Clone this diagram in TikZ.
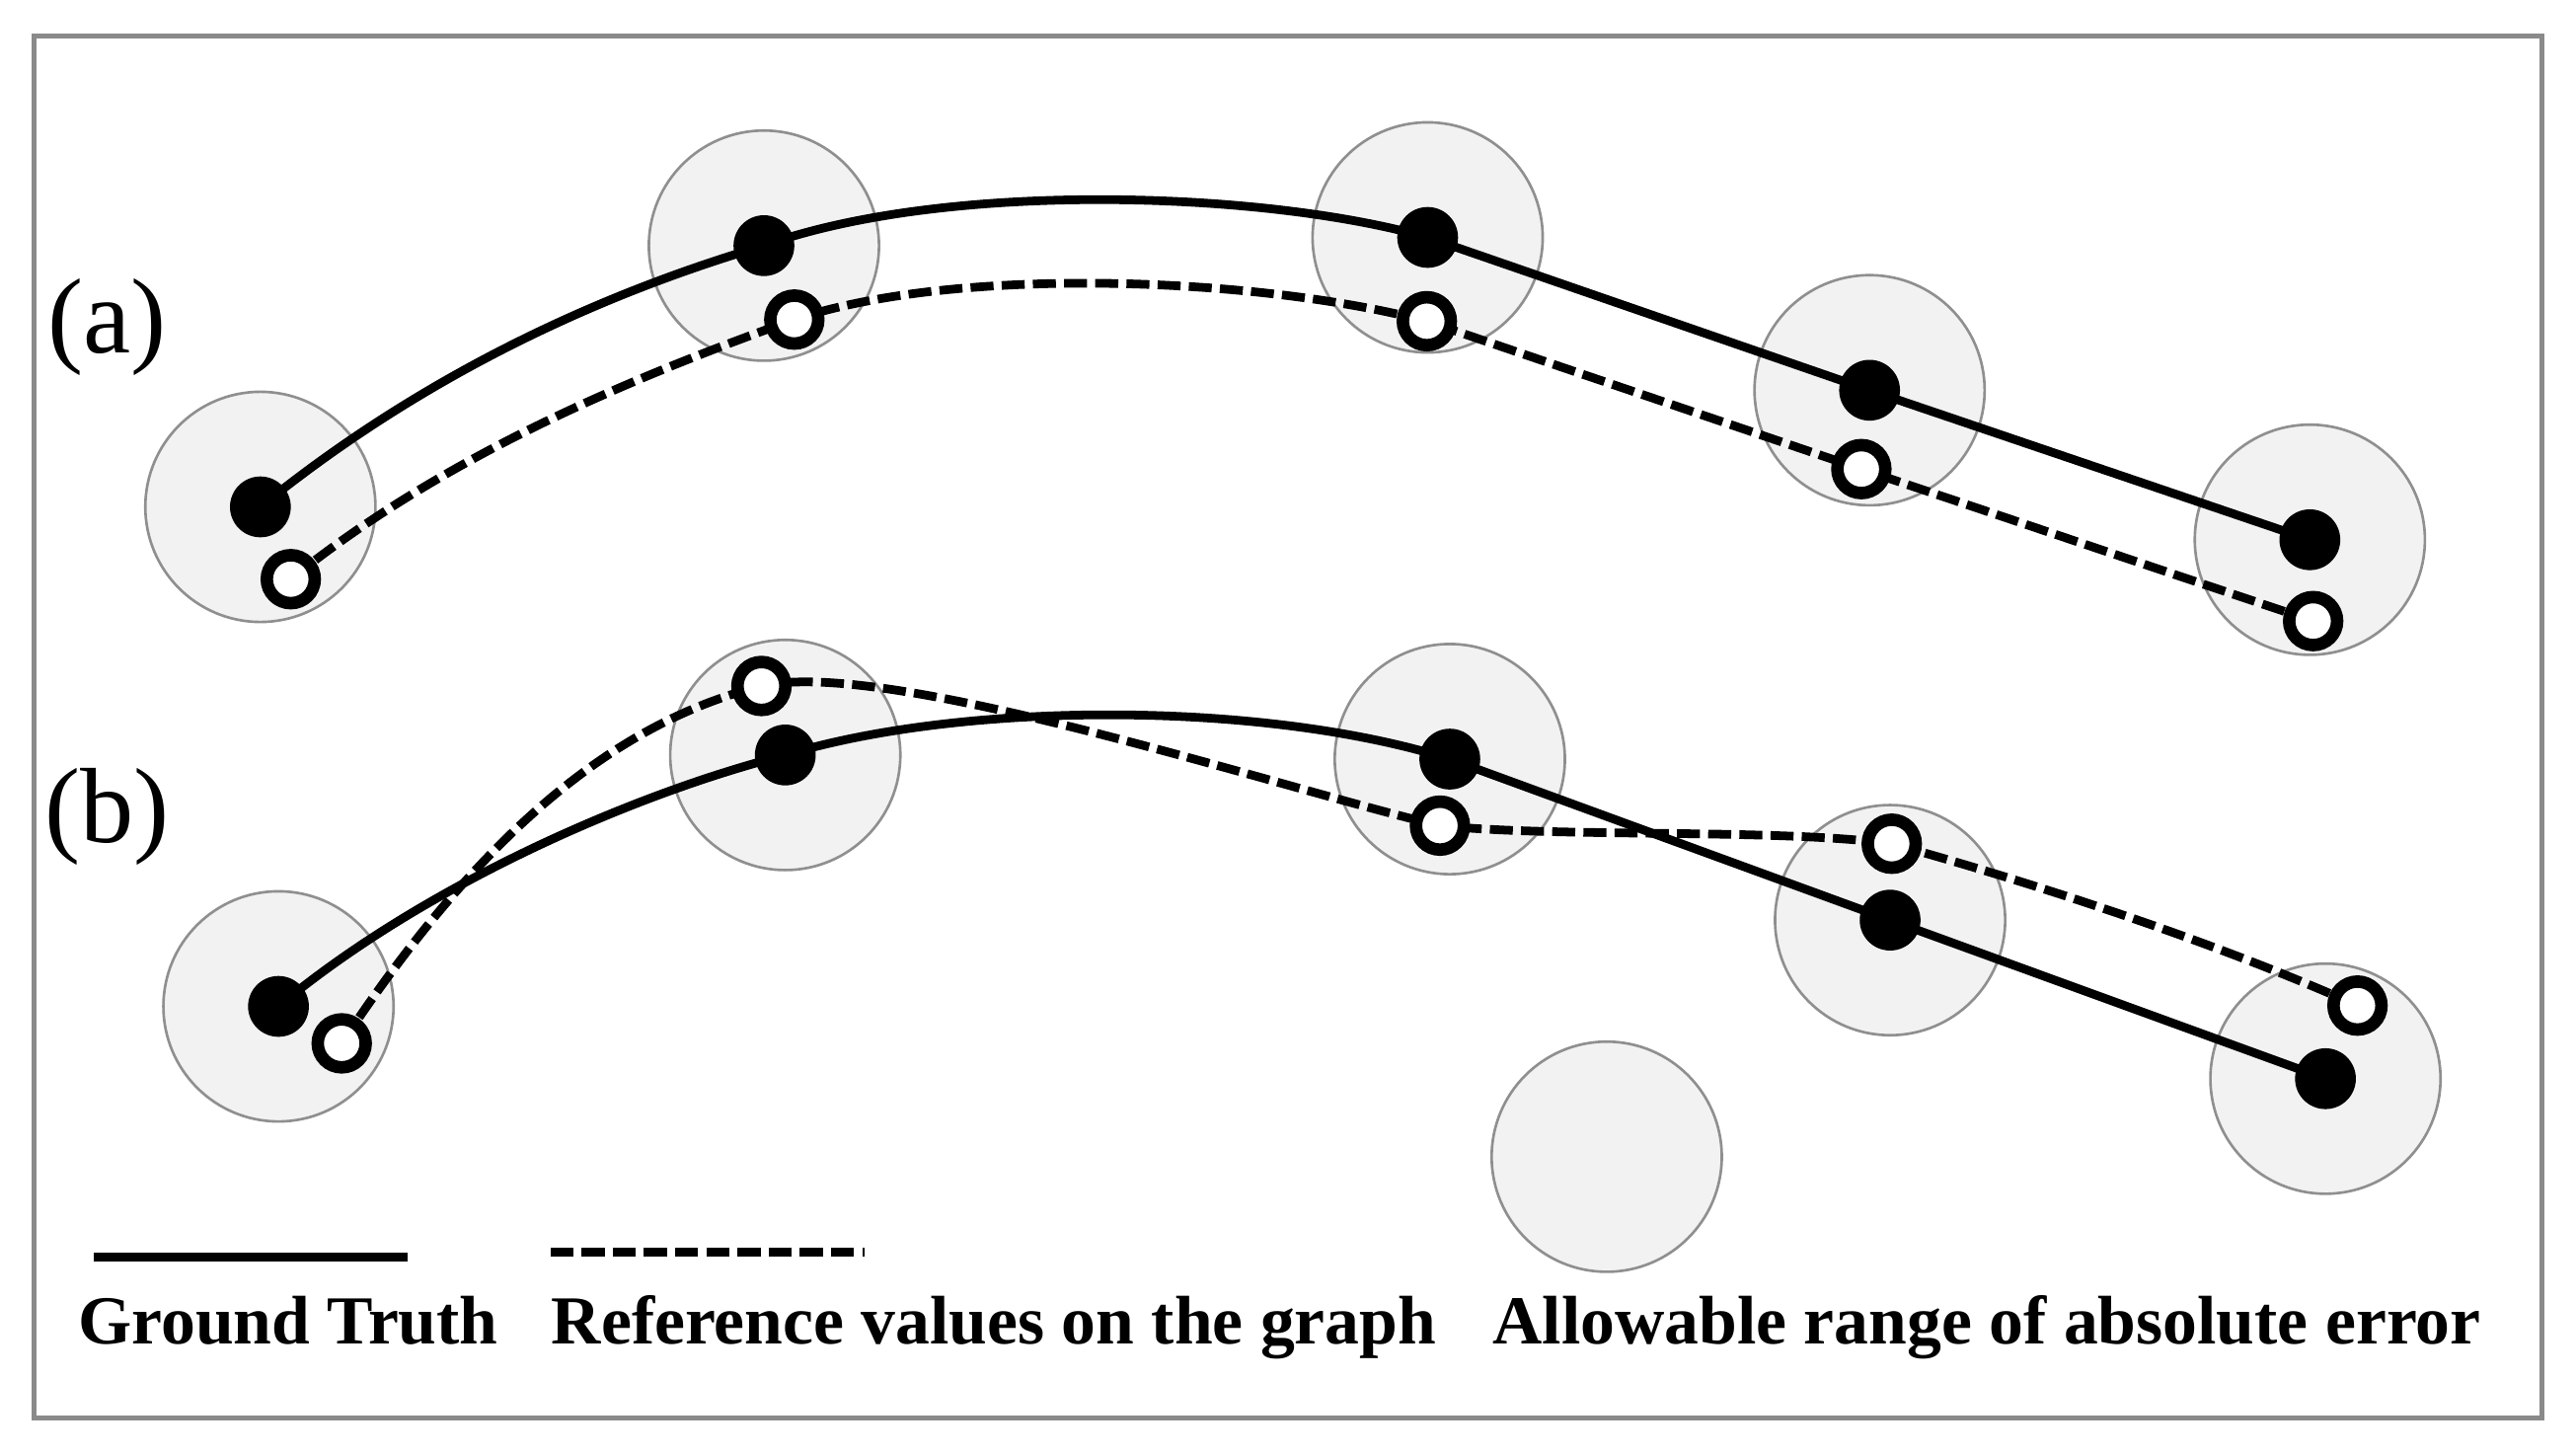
\documentclass[tikz,border=0pt]{standalone}
\usepackage{fontspec}
\setmainfont{Liberation Serif}
\definecolor{zonefill}{HTML}{F2F2F2}
\definecolor{zonedraw}{HTML}{8F8F8F}
\definecolor{framegray}{HTML}{8A8A8A}
\begin{document}
\begin{tikzpicture}[x=0.01cm,y=-0.01cm,
  zone/.style={fill=zonefill,draw=zonedraw,line width=0.45pt},
  fdot/.style={circle,fill=black,inner sep=0pt,minimum size=0.37cm},
  odot/.style={circle,draw=black,fill=white,line width=2.16pt,inner sep=0pt,minimum size=0.292cm},
  gtline/.style={line width=1.5pt},
  refline/.style={line width=1.5pt,dash pattern=on 3.98pt off 1.42pt},
  lbl/.style={font=\fontsize{18.5}{22}\selectfont,inner sep=0pt},
  leg/.style={font=\fontsize{11.9}{14}\selectfont\bfseries,inner sep=0pt,anchor=base west}]

\useasboundingbox (0,0) rectangle (1568,885);
\draw[framegray,line width=0.85pt] (21,22) rectangle (1547,863);

% ground-truth points (a)
\coordinate (ga1) at (158.5,308.5);
\coordinate (ga2) at (465,149.5);
\coordinate (ga3) at (869,144.5);
\coordinate (ga4) at (1138,237.5);
\coordinate (ga5) at (1406,328.5);
% reference points (a)
\coordinate (ra1) at (177,352.5);
\coordinate (ra2) at (483.5,194.5);
\coordinate (ra3) at (868.5,195.5);
\coordinate (ra4) at (1133,285.5);
\coordinate (ra5) at (1408,378);
% ground-truth points (b)
\coordinate (gb1) at (169.5,612.5);
\coordinate (gb2) at (478,459.5);
\coordinate (gb3) at (882.5,462);
\coordinate (gb4) at (1150.5,560);
\coordinate (gb5) at (1415.5,656.5);
% reference points (b)
\coordinate (rb1) at (208,635);
\coordinate (rb2) at (463.5,417.5);
\coordinate (rb3) at (876.5,502.5);
\coordinate (rb4) at (1151.5,513.5);
\coordinate (rb5) at (1435,612);
\coordinate (lone) at (978,704);

% allowable-error zones
\foreach \p in {ga1,ga2,ga3,ga4,ga5,gb1,gb2,gb3,gb4,gb5,lone}
  \path[zone] (\p) circle[radius=0.7cm];

% (a) curves
\draw[gtline] (ga1) .. controls (258,228) and (365,179) .. (ga2)
  .. controls (575,110) and (769,116) .. (ga3) -- (ga4) -- (ga5);
\draw[refline] (ra1) .. controls (271,277) and (384,230) .. (ra2)
  .. controls (584,161) and (768,169) .. (ra3) -- (ra4) -- (ra5);

% (b) curves
\draw[gtline] (gb1) .. controls (254,542) and (379,485) .. (gb2)
  .. controls (589,426) and (772,427) .. (gb3) -- (gb4) -- (gb5);
\draw[refline] (rb1) .. controls (305,488) and (390,436) .. (rb2)
  .. controls (540,400) and (780,480) .. (rb3)
  .. controls (950,510) and (1080,504) .. (rb4)
  .. controls (1240,538) and (1350,574) .. (rb5);

% dots
\foreach \p in {ga1,ga2,ga3,ga4,ga5,gb1,gb2,gb3,gb4,gb5}
  \node[fdot] (d\p) at (\p) {};
\foreach \p in {ra1,ra2,ra3,ra4,ra5,rb1,rb2,rb3,rb4,rb5}
  \node[odot] (d\p) at (\p) {};

% panel labels
\node[lbl] (la) at (65,199) {(a)};
\node[lbl] (lb) at (65,497) {(b)};

% legend
\coordinate (l1s) at (57,765);
\coordinate (l1e) at (248,765);
\coordinate (l2s) at (335,762);
\coordinate (l2e) at (526,762);
\draw[gtline,line width=1.6pt] (l1s) -- (l1e);
\draw[refline] (l2s) -- (l2e);
\node[leg] (t1) at (47,818) {Ground Truth};
\node[leg] (t2) at (335,818) {Reference values on the graph};
\node[leg] (t3) at (908,818) {Allowable range of absolute error};
\end{tikzpicture}
\end{document}
